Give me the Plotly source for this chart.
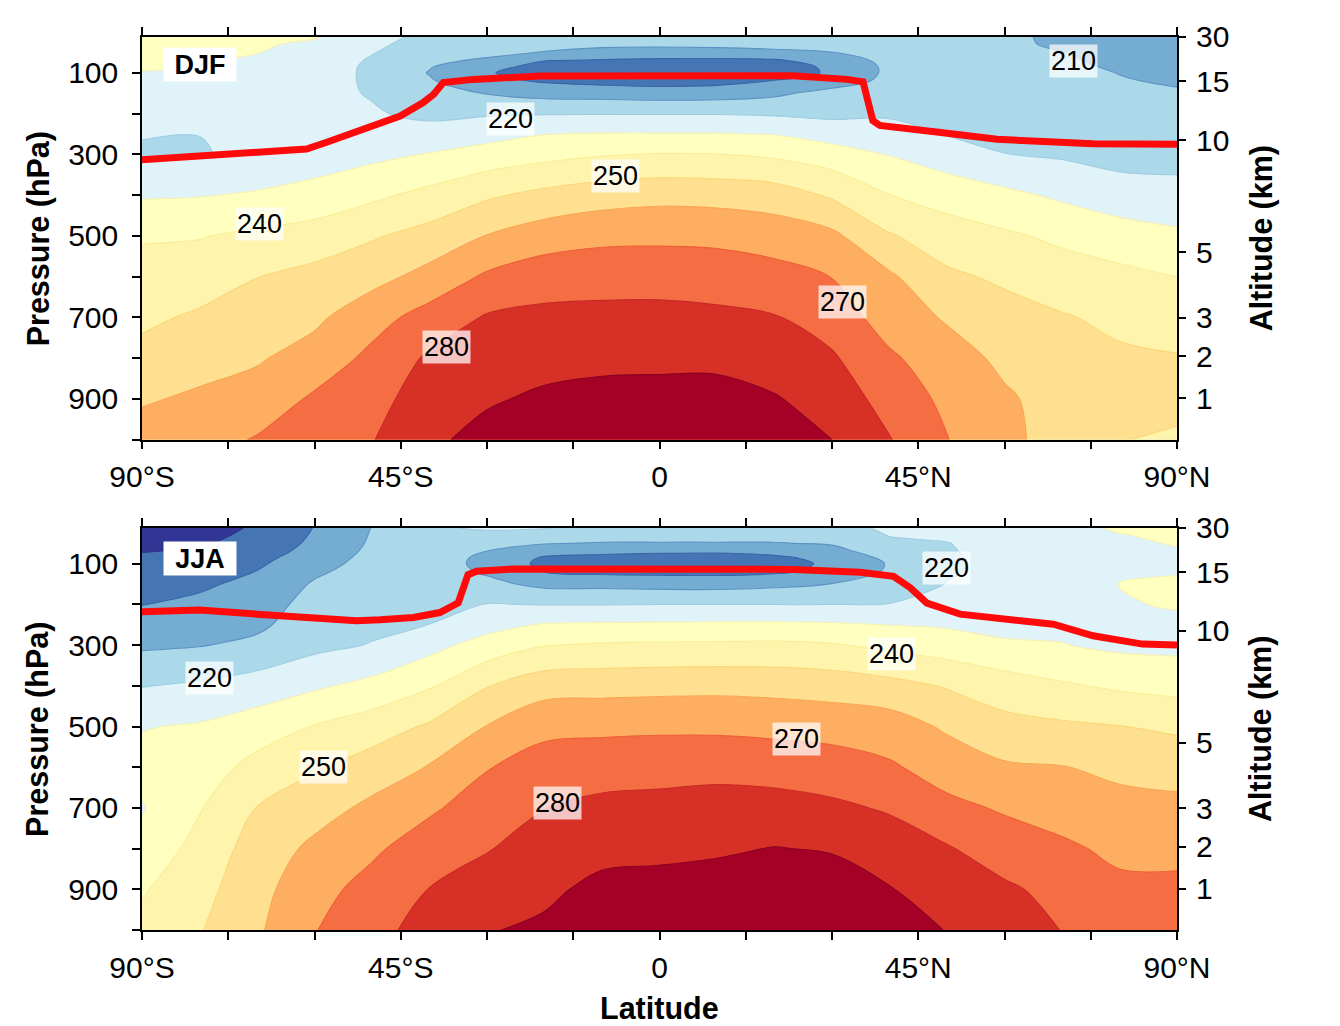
import math
import plotly.graph_objects as go

# ---------------- data ----------------
LATS = [-90, -80, -70, -60, -50, -40, -30, -20, -10, 0, 10, 20, 30, 40, 50, 60, 70, 80, 90]
LEVELS_HPA = [12, 30, 50, 70, 85, 100, 120, 150, 200, 250, 300, 400, 500, 600, 700, 800, 900, 1000]

# DJF zonal-mean temperature (K), one profile per latitude, from 12 hPa down to 1000 hPa
DJF_90S = [236, 234, 233, 232, 231, 229.5, 227, 225, 223, 220.5, 218.8, 229, 239, 244, 248, 253, 259, 264]
DJF_80S = [234, 233, 232, 231, 230, 228, 226, 224, 222, 220.1, 219.3, 229.5, 239.5, 245, 251.5, 256.5, 261.5, 266]
DJF_70S = [232, 231, 230.2, 228.5, 227.5, 226.5, 225.5, 224.5, 223, 222, 222.5, 231, 242, 249.8, 254.5, 259, 264, 270.8]
DJF_60S = [230.6, 228.5, 227, 225.5, 224.5, 224, 223.5, 223, 222.5, 223, 225, 233.5, 244.5, 253, 258, 264, 271.5, 275]
DJF_50S = [224, 222, 220.5, 219, 218.5, 218.5, 218.7, 219.3, 221, 223.5, 227.5, 238, 249, 256.7, 266.2, 272.4, 276.2, 279.5]
DJF_40S = [217, 216, 214, 212, 210.5, 209.5, 211, 214, 217.7, 224.1, 230.5, 242.8, 253.6, 263.3, 273.9, 281.5, 285.5, 288.5]
DJF_30S = [215, 214, 212.5, 208.5, 204, 201, 202.5, 209.5, 219, 226.5, 234, 248.5, 260.3, 271.5, 280.9, 285.2, 289.1, 292.5]
DJF_20S = [215, 213, 209.5, 200.2, 196, 194.5, 199, 206.5, 219.5, 229.8, 237, 252.6, 265.1, 275.6, 282.3, 287.4, 291.3, 295]
DJF_10S = [216, 212, 207, 199, 195, 193, 197, 206, 219.6, 230.6, 239.3, 255.5, 267.5, 276.5, 282.5, 288, 292.5, 296.5]
DJF_EQ = [216, 212, 206, 198, 194, 192, 196, 205, 219.5, 230.5, 240.5, 257, 268, 276, 283, 288, 293, 297]
DJF_10N = [216, 212, 207, 197.5, 193.5, 192, 197, 205.5, 219.5, 230.5, 240.2, 256.5, 267.5, 275.5, 282, 288, 293, 297]
DJF_20N = [216, 213, 208, 198.5, 195, 194.5, 200.5, 208, 218.8, 229.6, 238.3, 255, 265.5, 273.5, 280.6, 285.5, 290.7, 294.5]
DJF_30N = [216, 214, 209.8, 205, 202, 201.5, 205, 213.5, 217.8, 225.5, 234.7, 248.6, 262.2, 269.8, 275.5, 281.2, 286, 290]
DJF_40N = [216, 215, 213.5, 212.5, 212, 212, 212.5, 214, 218.5, 224.5, 229.5, 240.2, 250.8, 261.5, 265.5, 271.5, 276, 280.5]
DJF_50N = [215, 214, 213, 212.5, 212.5, 212.5, 213, 214, 216.5, 219.5, 225.2, 235.5, 245.3, 251.6, 258.9, 264.4, 267.8, 270.3]
DJF_60N = [213, 212, 212, 212, 212.5, 213, 213.5, 214, 215, 217, 220.2, 232.3, 241.5, 248.5, 253.3, 257.8, 261.4, 262.5]
DJF_70N = [207, 208.5, 210.3, 211.5, 212, 212.5, 213, 213.5, 214.5, 216.5, 218.8, 228.3, 238.1, 244.5, 250.8, 254, 256, 256]
DJF_80N = [204.5, 205, 206, 207.5, 208.8, 209.8, 210.6, 211.8, 213.5, 215.5, 217, 224, 235, 242.4, 247.8, 251.5, 253.2, 250.5]
DJF_90N = [205, 204, 205, 206, 207, 208, 209, 211, 213, 215, 217, 223, 232, 240, 246.5, 250.5, 254, 248]

# JJA zonal-mean temperature (K)
JJA_90S = [184, 186, 188, 189.7, 191.5, 193, 194.5, 196.5, 199.8, 204, 208.5, 219.6, 229.5, 233, 229.3, 233, 239, 243]
JJA_80S = [185, 187, 189, 191, 193, 194.5, 196.5, 198.5, 202, 205.5, 209.5, 221.5, 231, 235, 239.3, 243.5, 246.5, 249.3]
JJA_70S = [191.5, 192.5, 193.5, 195.2, 197, 198.5, 200.2, 202.5, 205.5, 208, 212.3, 224.5, 235, 243.2, 250.2, 254.2, 256.8, 258.5]
JJA_60S = [200.3, 201, 202, 203.5, 205, 206.5, 208.5, 211, 213.5, 215.5, 217.5, 228.5, 240.5, 248.8, 255.8, 262.2, 266.5, 269.5]
JJA_50S = [210.2, 210.7, 211.2, 212, 212.7, 213.3, 214, 215, 216.3, 217.8, 220.5, 232.8, 245.2, 254.5, 262.3, 268.2, 273.5, 277.5]
JJA_40S = [219, 217.5, 216, 215, 214.5, 214.3, 214.5, 215.2, 216.8, 220.1, 226.8, 239, 251.3, 260.6, 268.3, 275.5, 280.2, 283]
JJA_30S = [221, 218, 213, 209.8, 208, 207.6, 208.8, 212.5, 220.3, 226.5, 233.8, 249.5, 260.3, 269.4, 275.5, 279.4, 284.8, 289.5]
JJA_20S = [220.5, 216, 210.5, 204, 199, 197.5, 199.8, 207.5, 219.7, 230.8, 239.6, 256, 267.3, 274.5, 279.8, 284.5, 288.2, 291.5]
JJA_10S = [218, 213, 209.5, 202.5, 197.5, 196, 198, 207.3, 219.7, 231.2, 241.1, 256.6, 267.7, 276.2, 282.2, 287.4, 292.3, 296]
JJA_EQ = [217, 213, 209.5, 201.5, 196.5, 195, 197.5, 206.5, 219.9, 231.5, 241.5, 257.1, 268.2, 276.5, 283, 287.8, 293.2, 297.5]
JJA_10N = [217, 213, 209.5, 201.3, 196.3, 194.8, 197.3, 206.4, 219.9, 231.7, 241.7, 257.4, 268, 277.2, 283.8, 288.8, 293.9, 298]
JJA_20N = [217, 213.3, 209.5, 203, 198.3, 196.8, 198.5, 207.8, 219.9, 231.8, 242, 256.8, 267.3, 276, 283.8, 290.3, 295.5, 300.5]
JJA_30N = [217, 214.3, 211, 206.5, 203, 201.5, 203, 210.2, 219.9, 231.3, 240.8, 255.7, 266.2, 274.7, 281.8, 289.3, 294.5, 298.5]
JJA_40N = [221.5, 220.3, 218.5, 215.5, 212.5, 210.8, 211.5, 214.5, 220.3, 229.8, 237.6, 253.2, 265, 271.2, 279, 285, 290.4, 294]
JJA_50N = [222, 221, 219.8, 219.5, 219.2, 219, 219.2, 220.3, 224.5, 228.8, 235, 249.2, 258.5, 266, 272.3, 280.9, 286.5, 289.7]
JJA_60N = [223, 223, 222.5, 222, 222, 222, 222, 222.5, 224, 227, 231.5, 245, 253, 261.3, 269, 274.5, 281.8, 284.5]
JJA_70N = [226, 225, 224.5, 224, 224, 224.3, 224.8, 225.5, 226.5, 228, 230.3, 241.2, 251.6, 260.4, 266.2, 271.6, 276.5, 279.8]
JJA_80N = [231.5, 229.5, 228.5, 228.3, 228.5, 229, 229.5, 230.1, 229.6, 228.8, 228, 238.5, 250.2, 257.5, 263.5, 268, 272, 274.8]
JJA_90N = [233.5, 232, 230.5, 229.3, 229.2, 229.3, 229.7, 230.7, 230.4, 229, 227.5, 236.8, 248.2, 256.4, 262.4, 268.2, 271.5, 274]

# Tropopause (red line)
DJF_TROP_LAT = [-90, -76, -61.4, -58, -53.2, -45.1, -41.1, -39.3, -37.6, -32.4, -20.8, 0, 23.2, 32.6, 35.4, 37.1, 38.3, 49.3, 58.7, 75.4, 90]
DJF_TROP_P = [313, 300, 287, 271, 247, 206, 173, 153, 124, 116, 108, 107, 107, 116, 122, 217, 229, 247, 263, 274, 275]
JJA_TROP_LAT = [-90, -80, -70, -61.4, -52.7, -48.6, -42.8, -38.2, -35, -33.3, -31.8, -25.4, -10.3, 0, 23.3, 34.9, 40.7, 43.6, 46.5, 52.3, 61, 68.5, 75.4, 84, 90]
JJA_TROP_P = [218, 214, 224, 233, 240, 238, 232, 220, 196, 127, 118.5, 113, 113, 112.6, 114, 121, 131, 159, 197, 224, 236.5, 248.7, 277, 297.6, 300]

# Contour labels: text, latitude, pressure
DJF_LABEL_TEXT = ["220", "250", "240", "270", "280", "210"]
DJF_LABEL_LAT = [-26.0, -7.7, -69.6, 31.9, -37.0, 72.0]
DJF_LABEL_P = [213, 352, 471, 662, 772, 72]
JJA_LABEL_TEXT = ["220", "240", "220", "270", "250", "280"]
JJA_LABEL_LAT = [49.9, 40.3, -78.2, 23.9, -58.5, -17.7]
JJA_LABEL_P = [110, 322, 380, 530, 599, 689]

LAT_TICKS = [-90, -75, -60, -45, -30, -15, 0, 15, 30, 45, 60, 75, 90]
LAT_TICK_TEXT = ["90°S", "", "", "45°S", "", "", "0", "", "", "45°N", "", "", "90°N"]
P_TICKS = [100, 200, 300, 400, 500, 600, 700, 800, 900, 1000]
P_TICK_TEXT = ["100", "", "300", "", "500", "", "700", "", "900", ""]
ALT_TICKS_KM = [30, 15, 10, 5, 3, 2, 1]

CONTOUR_START, CONTOUR_END, CONTOUR_STEP = 190, 290, 10
BAND_COLORS = ["#313695", "#4575b4", "#74add1", "#abd9e9", "#e0f3f8", "#ffffbf",
               "#fef4ab", "#fee090", "#fdae61", "#f46d43", "#d73027", "#a50026"]
# isoline colours for levels 190 ... 290
LINE_COLORS = ["#2b3285", "#3a66a6", "#5d93c4", "#9fcde2", "#f4f0b8", "#fbed9a",
               "#fcd67a", "#f9a654", "#ef6038", "#c92a27", "#8a0022"]

# ---------------- helpers ----------------
DJF_COLUMNS = [DJF_90S, DJF_80S, DJF_70S, DJF_60S, DJF_50S, DJF_40S, DJF_30S, DJF_20S, DJF_10S, DJF_EQ,
               DJF_10N, DJF_20N, DJF_30N, DJF_40N, DJF_50N, DJF_60N, DJF_70N, DJF_80N, DJF_90N]
JJA_COLUMNS = [JJA_90S, JJA_80S, JJA_70S, JJA_60S, JJA_50S, JJA_40S, JJA_30S, JJA_20S, JJA_10S, JJA_EQ,
               JJA_10N, JJA_20N, JJA_30N, JJA_40N, JJA_50N, JJA_60N, JJA_70N, JJA_80N, JJA_90N]


def to_grid(columns):
    return [[col[j] for col in columns] for j in range(len(LEVELS_HPA))]


def std_pressure_hpa(z_km):
    h = z_km * 6356.766 / (6356.766 + z_km)
    if h <= 11:
        return 1013.25 * (1 - 6.5 * h / 288.15) ** 5.255877
    if h <= 20:
        return 226.3206 * math.exp(-0.157688 * (h - 11))
    return 54.74889 * (1 + (h - 20) / 216.65) ** (-34.163195)


fill_scale = [[k / (len(BAND_COLORS) - 1), c] for k, c in enumerate(BAND_COLORS)]
line_scale = [[k / (len(LINE_COLORS) - 1), c] for k, c in enumerate(LINE_COLORS)]

FONT = "Liberation Sans, Arial, Helvetica, sans-serif"

fig = go.Figure()


def add_panel(columns, trop_lat, trop_p, xa, ya, ya_alt):
    z = to_grid(columns)
    levels = dict(start=CONTOUR_START, end=CONTOUR_END, size=CONTOUR_STEP)
    fig.add_trace(go.Contour(
        x=LATS, y=LEVELS_HPA, z=z, xaxis=xa, yaxis=ya,
        colorscale=fill_scale, showscale=False, autocontour=False,
        contours=dict(levels, coloring="fill", showlines=False),
        line=dict(width=0, smoothing=1), hoverinfo="skip",
    ))
    fig.add_trace(go.Contour(
        x=LATS, y=LEVELS_HPA, z=z, xaxis=xa, yaxis=ya,
        colorscale=line_scale, showscale=False, autocontour=False,
        contours=dict(levels, coloring="lines", showlines=True),
        line=dict(width=1.1, smoothing=1), hoverinfo="skip",
    ))
    fig.add_trace(go.Scatter(
        x=trop_lat, y=trop_p, xaxis=xa, yaxis=ya, mode="lines",
        line=dict(color="#ff0a0a", width=7), hoverinfo="skip", showlegend=False,
    ))
    # invisible anchor so the altitude axis on the right is drawn
    fig.add_trace(go.Scatter(
        x=[0], y=[500], xaxis=xa, yaxis=ya_alt, mode="markers",
        marker=dict(opacity=0, size=1), hoverinfo="skip", showlegend=False,
    ))


add_panel(DJF_COLUMNS, DJF_TROP_LAT, DJF_TROP_P, "x", "y", "y3")
add_panel(JJA_COLUMNS, JJA_TROP_LAT, JJA_TROP_P, "x2", "y2", "y4")

# page body has an 8 px margin, so everything is shifted by -8 px
TOP_DOMAIN = [0.5491, 1.0]
BOT_DOMAIN = [0.0, 0.4503]

xcommon = dict(range=[-90, 90], tickmode="array", tickvals=LAT_TICKS, ticktext=LAT_TICK_TEXT,
               ticks="outside", ticklen=8, tickwidth=1.5, tickcolor="black",
               showline=True, linecolor="black", linewidth=1.5, mirror="ticks",
               showgrid=False, zeroline=False, ticklabelstandoff=2,
               tickfont=dict(family=FONT, size=30, color="black"))
ycommon = dict(range=[1000, 12], tickmode="array", tickvals=P_TICKS, ticktext=P_TICK_TEXT,
               ticks="outside", ticklen=8, tickwidth=1.5, tickcolor="black",
               showline=True, linecolor="black", linewidth=1.5, mirror=True,
               showgrid=False, zeroline=False, ticklabelstandoff=8,
               tickfont=dict(family=FONT, size=30, color="black"))
alt_vals = [std_pressure_hpa(z) for z in ALT_TICKS_KM]
alt_text = [str(z) for z in ALT_TICKS_KM]
acommon = dict(range=[1000, 12], tickmode="array", tickvals=alt_vals, ticktext=alt_text,
               ticks="outside", ticklen=8, tickwidth=1.5, tickcolor="black", side="right",
               showline=False, showgrid=False, zeroline=False, ticklabelstandoff=4,
               tickfont=dict(family=FONT, size=30, color="black"))

fig.update_layout(
    width=1340, height=1026,
    margin=dict(l=134, r=171, t=26, b=104),
    paper_bgcolor="white", plot_bgcolor="white",
    showlegend=False,
    font=dict(family=FONT, color="black"),
    xaxis=dict(xcommon, domain=[0, 1], anchor="y"),
    yaxis=dict(ycommon, domain=TOP_DOMAIN, anchor="x"),
    xaxis2=dict(xcommon, domain=[0, 1], anchor="y2"),
    yaxis2=dict(ycommon, domain=BOT_DOMAIN, anchor="x2"),
    yaxis3=dict(acommon, overlaying="y", anchor="x"),
    yaxis4=dict(acommon, overlaying="y2", anchor="x2"),
)

annotations = []
for txt, la, p in zip(DJF_LABEL_TEXT, DJF_LABEL_LAT, DJF_LABEL_P):
    annotations.append(dict(x=la, y=p, xref="x", yref="y", text=txt, showarrow=False,
                            font=dict(family=FONT, size=27, color="black"),
                            bgcolor="rgba(255,255,255,0.72)", borderpad=1))
for txt, la, p in zip(JJA_LABEL_TEXT, JJA_LABEL_LAT, JJA_LABEL_P):
    annotations.append(dict(x=la, y=p, xref="x2", yref="y2", text=txt, showarrow=False,
                            font=dict(family=FONT, size=27, color="black"),
                            bgcolor="rgba(255,255,255,0.72)", borderpad=1))

for name, xr, yr, yy in [("DJF", "x domain", "y domain", 0.932), ("JJA", "x2 domain", "y2 domain", 0.925)]:
    annotations.append(dict(x=0.056, y=yy, xref=xr, yref=yr, xanchor="center", yanchor="middle",
                            text="<b>%s</b>" % name, showarrow=False,
                            font=dict(family=FONT, size=27, color="black"),
                            bgcolor="white", width=70, height=31))

for yr in ["y domain", "y2 domain"]:
    annotations.append(dict(x=-0.1005, y=0.5, xref="paper", yref=yr, text="<b>Pressure (hPa)</b>",
                            textangle=-90, showarrow=False, xanchor="center", yanchor="middle",
                            font=dict(family=FONT, size=30.5, color="black")))
    annotations.append(dict(x=1.0812, y=0.5, xref="paper", yref=yr, text="<b>Altitude (km)</b>",
                            textangle=-90, showarrow=False, xanchor="center", yanchor="middle",
                            font=dict(family=FONT, size=30.5, color="black")))
annotations.append(dict(x=0.5, y=-0.0871, xref="paper", yref="paper", text="<b>Latitude</b>",
                        showarrow=False, xanchor="center", yanchor="middle",
                        font=dict(family=FONT, size=30.5, color="black")))

fig.update_layout(annotations=annotations)

fig.write_html("out.html")
